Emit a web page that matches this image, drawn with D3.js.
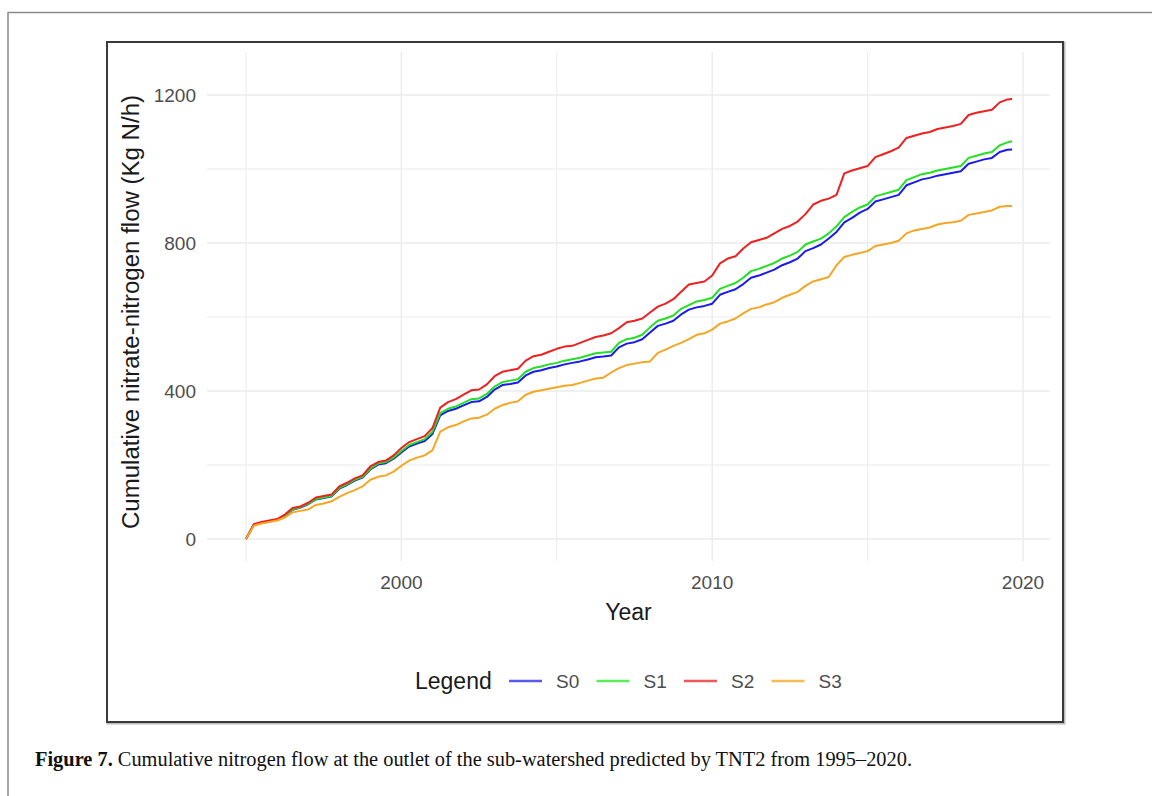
<!DOCTYPE html>
<html>
<head>
	<meta charset="utf-8">
	<script src="https://d3js.org/d3.v7.min.js"></script>
	<style>
		body { margin: 0; background: #fff; }
	</style>
</head>
<body>
	<svg id="SVG" width="1152" height="796" font-family="Liberation Sans, Arial, sans-serif"></svg>
	<script>
	// quarter-year sampling, values (Kg N/h, cumulative)
	var years = [
		1995.00, 1995.25, 1995.50, 1995.75, 1996.00, 1996.25, 1996.50, 1996.75,
		1997.00, 1997.25, 1997.50, 1997.75, 1998.00, 1998.25, 1998.50, 1998.75,
		1999.00, 1999.25, 1999.50, 1999.75, 2000.00, 2000.25, 2000.50, 2000.75,
		2001.00, 2001.25, 2001.50, 2001.75, 2002.00, 2002.25, 2002.50, 2002.75,
		2003.00, 2003.25, 2003.50, 2003.75, 2004.00, 2004.25, 2004.50, 2004.75,
		2005.00, 2005.25, 2005.50, 2005.75, 2006.00, 2006.25, 2006.50, 2006.75,
		2007.00, 2007.25, 2007.50, 2007.75, 2008.00, 2008.25, 2008.50, 2008.75,
		2009.00, 2009.25, 2009.50, 2009.75, 2010.00, 2010.25, 2010.50, 2010.75,
		2011.00, 2011.25, 2011.50, 2011.75, 2012.00, 2012.25, 2012.50, 2012.75,
		2013.00, 2013.25, 2013.50, 2013.75, 2014.00, 2014.25, 2014.50, 2014.75,
		2015.00, 2015.25, 2015.50, 2015.75, 2016.00, 2016.25, 2016.50, 2016.75,
		2017.00, 2017.25, 2017.50, 2017.75, 2018.00, 2018.25, 2018.50, 2018.75,
		2019.00, 2019.25, 2019.50, 2019.65
	];

	var s0 = [
		0, 38, 44, 48, 52, 63, 79, 85,
		94, 107, 111, 115, 136, 146, 158, 166,
		188, 201, 205, 217, 234, 250, 258, 265,
		284, 334, 346, 352, 361, 370, 372, 384,
		404, 416, 419, 423, 442, 452, 456, 462,
		466, 472, 476, 480, 485, 491, 493, 496,
		518, 528, 532, 540, 558, 576, 582, 590,
		607, 620, 626, 630, 636, 660, 668, 675,
		689, 706, 712, 720, 728, 740, 748, 758,
		778, 786, 796, 812, 830, 856, 868, 882,
		892, 912, 918, 924, 930, 956, 964, 972,
		976, 982, 986, 990, 994, 1014, 1020, 1026,
		1030, 1046, 1052, 1053
	];

	var s1 = [
		0, 38, 44, 48, 52, 64, 80, 86,
		95, 108, 112, 116, 138, 148, 160, 168,
		190, 204, 208, 220, 238, 254, 262, 270,
		290, 340, 352, 358, 368, 378, 380, 392,
		412, 424, 428, 432, 452, 462, 466, 472,
		476, 482, 486, 490, 496, 502, 504, 506,
		530, 540, 544, 552, 572, 590, 596, 604,
		622, 632, 642, 646, 652, 676, 684, 692,
		706, 724, 730, 738, 746, 758, 766, 776,
		796, 804, 812, 826, 845, 870, 884, 896,
		904, 926, 932, 938, 944, 970, 978, 986,
		990, 996, 1000, 1004, 1008, 1030, 1036, 1042,
		1046, 1064, 1072, 1075
	];

	var s2 = [
		0, 40, 46, 50, 54, 66, 84, 88,
		98, 112, 116, 120, 142, 152, 164, 172,
		196, 208, 212, 226, 246, 262, 270, 278,
		300, 355, 370, 378, 390, 402, 404, 418,
		440, 452, 456, 460, 482, 494, 498, 506,
		514, 520, 522, 530, 538, 546, 550, 556,
		570, 586, 590, 596, 612, 628, 636, 648,
		668, 688, 692, 696, 712, 745, 758, 764,
		785, 802, 808, 814, 826, 838, 846, 858,
		878, 904, 914, 920, 930, 988, 996, 1002,
		1008, 1032, 1040, 1048, 1058, 1084, 1090, 1096,
		1100, 1108, 1112, 1116, 1122, 1146, 1152, 1156,
		1160, 1180, 1188, 1189
	];

	var s3 = [
		0, 36, 42, 46, 50, 58, 72, 76,
		80, 92, 96, 102, 114, 124, 132, 142,
		160, 168, 172, 182, 198, 212, 220, 226,
		240, 290, 302, 308, 318, 326, 328, 336,
		352, 362, 368, 372, 390, 398, 402, 406,
		410, 414, 416, 422, 428, 434, 436, 450,
		462, 470, 474, 478, 480, 503, 512, 522,
		530, 540, 552, 556, 566, 582, 588, 596,
		610, 622, 626, 634, 640, 652, 660, 668,
		684, 696, 702, 708, 740, 762, 768, 773,
		778, 792, 796, 800, 806, 826, 834, 838,
		842, 850, 854, 856, 860, 876, 880, 884,
		888, 898, 900, 900
	];

	var seriesNames = ["S0", "S1", "S2", "S3"];
	var seriesColors = ["#1a1af0", "#22e022", "#ee2020", "#f5a623"];
	var keyColors = ["#5a5aee", "#5aee5a", "#ee5a5a", "#f6bd55"];
	var xTicks = [2000, 2010, 2020];
	var xMinor = [1995, 2005, 2015];
	var yTicks = [0, 400, 800, 1200];
	var yMinor = [200, 600, 1000];

	var svg = d3.select("#SVG");

	// outer page frame
	svg.append("line").attr("x1", 8).attr("x2", 1152).attr("y1", 12.5).attr("y2", 12.5)
		.attr("stroke", "#8a8a8a").attr("stroke-width", 1.5);
	svg.append("line").attr("x1", 8).attr("x2", 8).attr("y1", 12).attr("y2", 796)
		.attr("stroke", "#8a8a8a").attr("stroke-width", 1.5);

	// figure box
	svg.append("rect").attr("x", 108).attr("y", 43).attr("width", 956).attr("height", 680)
		.attr("fill", "none").attr("stroke", "#bbb").attr("stroke-width", 3);
	svg.append("rect").attr("x", 107).attr("y", 42).attr("width", 956).attr("height", 680)
		.attr("fill", "#fff").attr("stroke", "#3a3a3a").attr("stroke-width", 2);

	var x = d3.scaleLinear().domain([1995, 2020]).range([246, 1023]);
	var y = d3.scaleLinear().domain([0, 1200]).range([539, 95]);

	var panel = { left: 207, right: 1050, top: 52, bottom: 561 };

	var grid = svg.append("g").attr("stroke", "#ebebeb");
	grid.selectAll("line.vx")
		.data(xMinor.concat(xTicks))
		.enter().append("line")
			.attr("class", "vx")
			.attr("x1", function(d) { return x(d); })
			.attr("x2", function(d) { return x(d); })
			.attr("y1", panel.top)
			.attr("y2", panel.bottom)
			.attr("stroke-width", function(d) { return xTicks.indexOf(d) >= 0 ? 1.4 : 1; });
	grid.selectAll("line.hy")
		.data(yMinor.concat(yTicks))
		.enter().append("line")
			.attr("class", "hy")
			.attr("x1", panel.left)
			.attr("x2", panel.right)
			.attr("y1", function(d) { return y(d); })
			.attr("y2", function(d) { return y(d); })
			.attr("stroke-width", function(d) { return yTicks.indexOf(d) >= 0 ? 1.4 : 1; });

	// tick labels
	svg.append("g")
		.selectAll("text")
		.data(yTicks)
		.enter().append("text")
			.attr("x", 196)
			.attr("y", function(d) { return y(d); })
			.attr("dy", "0.36em")
			.attr("text-anchor", "end")
			.attr("font-size", 19)
			.attr("fill", "#4d4d4d")
			.text(function(d) { return d; });

	svg.append("g")
		.selectAll("text")
		.data(xTicks)
		.enter().append("text")
			.attr("x", function(d) { return x(d); })
			.attr("y", 589)
			.attr("text-anchor", "middle")
			.attr("font-size", 19)
			.attr("fill", "#4d4d4d")
			.text(function(d) { return d; });

	svg.append("text")
		.attr("x", (panel.left + panel.right) / 2)
		.attr("y", 620)
		.attr("text-anchor", "middle")
		.attr("font-size", 23)
		.attr("fill", "#1a1a1a")
		.text("Year");

	svg.append("text")
		.attr("transform", "translate(139,312)rotate(-90)")
		.attr("text-anchor", "middle")
		.attr("font-size", 23)
		.attr("textLength", 434)
		.attr("lengthAdjust", "spacingAndGlyphs")
		.attr("fill", "#1a1a1a")
		.text("Cumulative nitrate-nitrogen flow (Kg N/h)");

	// lines
	var allSeries = [s0, s1, s2, s3];
	var line = d3.line()
		.x(function(d, i) { return x(years[i]); })
		.y(function(d) { return y(d); });

	svg.append("g")
		.attr("fill", "none")
		.attr("stroke-width", 2)
		.attr("stroke-linejoin", "round")
		.selectAll("path")
		.data(allSeries)
		.enter().append("path")
			.attr("stroke", function(d, i) { return seriesColors[i]; })
			.attr("d", line);

	// legend
	var legend = svg.append("g").attr("transform", "translate(0,681)");
	legend.append("text")
		.attr("x", 415)
		.attr("dy", "0.36em")
		.attr("font-size", 23)
		.attr("fill", "#1a1a1a")
		.text("Legend");

	var keys = legend.selectAll("g")
		.data(seriesNames)
		.enter().append("g")
			.attr("transform", function(d, i) { return "translate(" + (509 + i * 87.5) + ",0)"; });

	keys.append("line")
		.attr("x1", 0)
		.attr("x2", 33)
		.attr("stroke", function(d, i) { return keyColors[i]; })
		.attr("stroke-width", 2.5);

	keys.append("text")
		.attr("x", 47)
		.attr("dy", "0.36em")
		.attr("font-size", 19)
		.attr("fill", "#4d4d4d")
		.text(function(d) { return d; });

	// caption
	var cap = svg.append("text")
		.attr("x", 35)
		.attr("y", 766)
		.attr("font-family", "Liberation Serif, Times New Roman, serif")
		.attr("font-size", 20)
		.attr("textLength", 877)
		.attr("lengthAdjust", "spacingAndGlyphs")
		.attr("fill", "#111");
	cap.append("tspan").attr("font-weight", "bold").text("Figure 7.");
	cap.append("tspan").text(" Cumulative nitrogen flow at the outlet of the sub-watershed predicted by TNT2 from 1995\u20132020.");
	</script>
</body>
</html>
